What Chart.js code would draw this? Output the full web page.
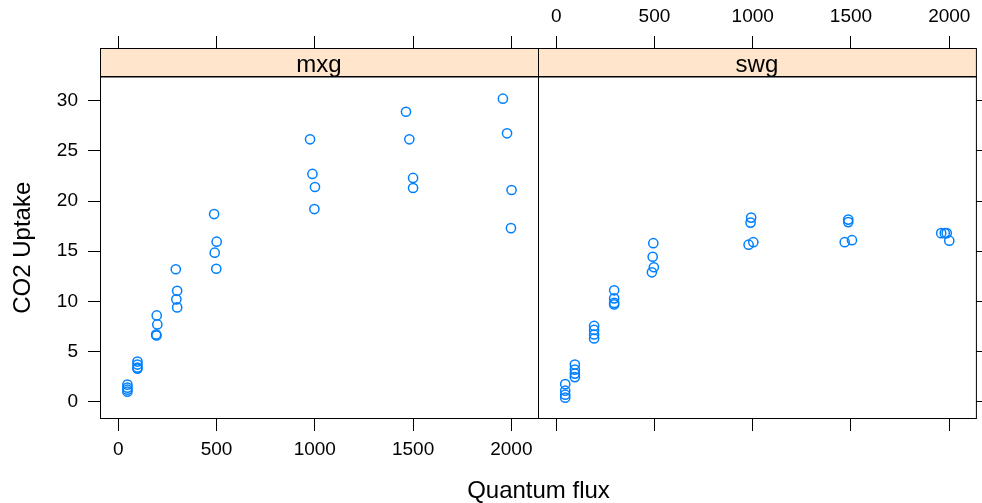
<!DOCTYPE html>
<html>
<head>
<meta charset="utf-8">
<script src="https://cdn.jsdelivr.net/npm/chart.js@4"></script>
<style>
    body { margin: 0; background: #ffffff; }
    #wrap { position: relative; width: 982px; height: 503px; }
    canvas { position: absolute; left: 0; top: 0; }
</style>
</head>
<body>
<div id="wrap">
    <canvas id="mxgChart" width="982" height="503"></canvas>
    <canvas id="swgChart" width="982" height="503"></canvas>
</div>
<script>
// values
const panelNames = ['mxg', 'swg'];
const xTicks = [0, 500, 1000, 1500, 2000];
const yTicks = [0, 5, 10, 15, 20, 25, 30];

const mxgFlux = [47, 47, 47, 47, 98, 98, 98, 98, 196, 199, 193, 195, 293, 300, 296, 300,
    488, 501, 491, 499, 976, 988, 1001, 998, 1464, 1481, 1500, 1500, 1957, 1978, 2001, 1998];
const mxgUptake = [1.7, 1.4, 1.2, 1.0, 4.0, 3.7, 3.4, 3.3, 8.6, 7.7, 6.7, 6.6, 13.2, 11.05, 10.2, 9.4,
    18.7, 15.95, 14.85, 13.25, 26.15, 22.7, 21.4, 19.2, 28.9, 26.15, 22.3, 21.3, 30.2, 26.75, 21.1, 17.3];

const swgFlux = [46, 46, 46, 46, 95, 95, 95, 95, 193, 193, 193, 193, 295, 295, 295, 295,
    494, 491, 497, 487, 992, 989, 1003, 979, 1486, 1486, 1505, 1468, 1959, 1977, 1987, 2000];
const swgUptake = [1.75, 1.1, 0.7, 0.4, 3.7, 3.2, 2.8, 2.45, 7.55, 7.15, 6.7, 6.3, 11.1, 10.3, 9.85, 9.7,
    15.8, 14.45, 13.4, 12.9, 18.35, 17.85, 15.9, 15.65, 18.15, 17.9, 16.1, 15.9, 16.8, 16.8, 16.8, 16.05];

const FONT = '"Liberation Sans", Arial, sans-serif';
const STRIP_H = 28.5;

function toPoints(xs, ys) {
    return xs.map((x, i) => ({ x: x, y: ys[i] }));
}

function fixedSize(size) {
    return function(scale) {
        if (scale.isHorizontal()) {
            scale.height = size;
        } else {
            scale.width = size;
        }
    };
}

function setTicks(values) {
    return function(scale) {
        scale.ticks = values.map(v => ({ value: v }));
    };
}

function tickAxis(position, values, showLabels, size) {
    return {
        type: 'linear',
        position: position,
        min: position === 'left' || position === 'right' ? -1.724 : -92.5,
        max: position === 'left' || position === 'right' ? 35.254 : 2135.5,
        afterBuildTicks: setTicks(values),
        afterFit: fixedSize(size),
        border: { display: false },
        grid: {
            drawOnChartArea: false,
            drawTicks: true,
            tickLength: 12,
            color: '#000000',
            lineWidth: 1
        },
        ticks: {
            display: showLabels,
            color: '#000000',
            padding: position === 'left' ? 10 : 7.5,
            maxRotation: 0,
            autoSkip: false,
            font: { family: FONT, size: 19 },
            callback: v => String(v)
        }
    };
}

// strip, frame and the shared axis titles
function panelPlugin(name, withTitles) {
    return {
        id: 'panel_' + name,
        afterDraw(chart) {
            const ctx = chart.ctx;
            const a = chart.chartArea;
            const w = a.right - a.left;
            const stripBottom = a.top + STRIP_H;
            ctx.save();
            ctx.fillStyle = '#FFE5CC';
            ctx.fillRect(a.left, a.top, w, STRIP_H);
            ctx.strokeStyle = '#000000';
            ctx.lineWidth = 1;
            ctx.strokeRect(a.left + 0.5, a.top + 0.5, w, STRIP_H);
            ctx.strokeRect(a.left + 0.5, stripBottom, w, a.bottom - stripBottom - 0.5);

            ctx.fillStyle = '#000000';
            ctx.font = '24px ' + FONT;
            ctx.textAlign = 'center';
            ctx.textBaseline = 'alphabetic';
            ctx.fillText(name, (a.left + a.right) / 2, a.top + 23.5);

            if (withTitles) {
                ctx.fillText('Quantum flux', 538.5, 498);
                ctx.translate(23, (stripBottom + a.bottom) / 2);
                ctx.rotate(-Math.PI / 2);
                ctx.textBaseline = 'middle';
                ctx.fillText('CO2 Uptake', 0, 0);
            }
            ctx.restore();
        }
    };
}

function makePanel(canvasId, name, xs, ys, isLeft) {
    const ctx = document.getElementById(canvasId).getContext('2d');
    const scales = isLeft ? {
        x: tickAxis('bottom', xTicks, true, 84),
        xTop: tickAxis('top', xTicks, false, 48),
        y: tickAxis('left', yTicks, true, 100)
    } : {
        x: tickAxis('bottom', xTicks, false, 84),
        xTop: tickAxis('top', xTicks, true, 48),
        y: tickAxis('right', yTicks, false, 6)
    };

    return new Chart(ctx, {
        type: 'scatter',
        data: {
            datasets: [{
                label: name,
                data: toPoints(xs, ys),
                xAxisID: 'x',
                yAxisID: 'y',
                pointStyle: 'circle',
                pointRadius: 4.6,
                pointBorderWidth: 1.5,
                pointBorderColor: '#0080FF',
                pointBackgroundColor: 'rgba(0,0,0,0)'
            }]
        },
        options: {
            responsive: false,
            animation: false,
            layout: {
                padding: isLeft
                    ? { left: 0, right: 444, top: 0, bottom: 0 }
                    : { left: 538, right: 0, top: 0, bottom: 0 }
            },
            plugins: {
                legend: { display: false },
                tooltip: { enabled: false }
            },
            scales: scales
        },
        plugins: [panelPlugin(name, isLeft)]
    });
}

makePanel('mxgChart', panelNames[0], mxgFlux, mxgUptake, true);
makePanel('swgChart', panelNames[1], swgFlux, swgUptake, false);
</script>
</body>
</html>
